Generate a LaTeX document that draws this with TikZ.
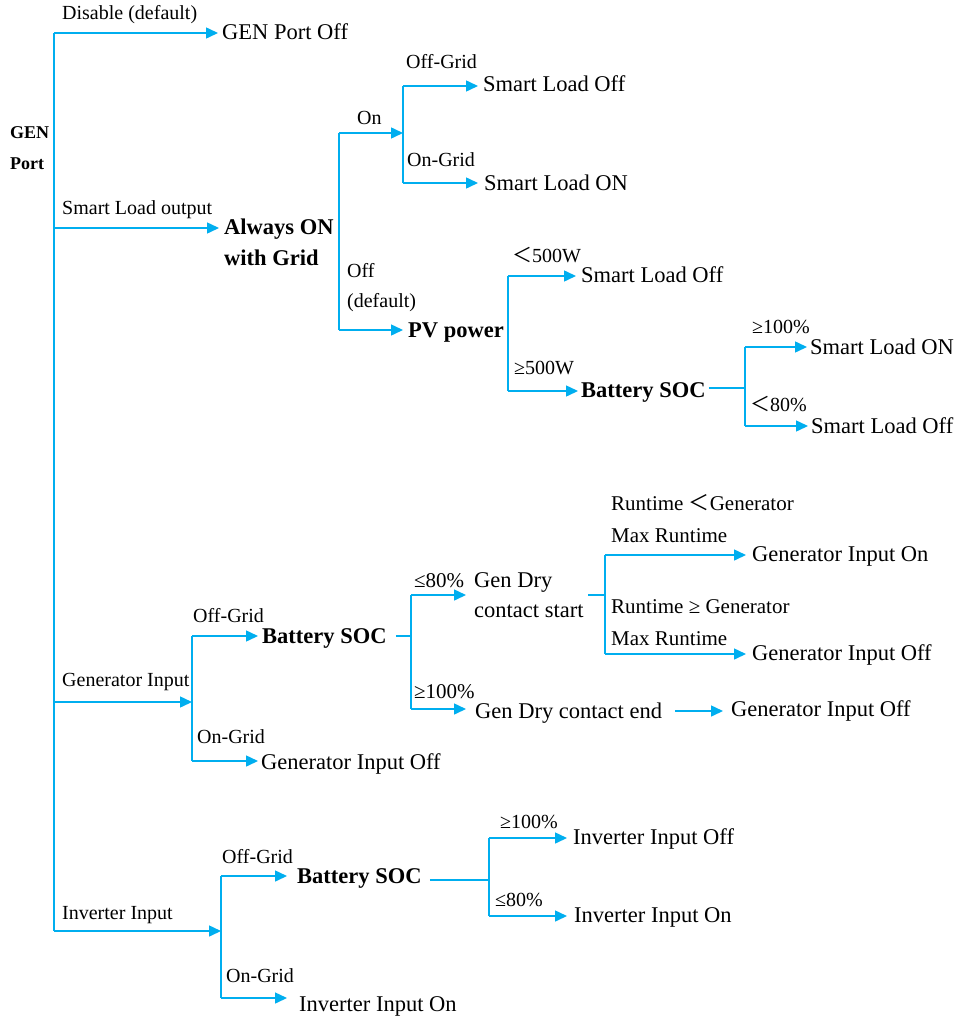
\documentclass[tikz,border=0pt]{standalone}
\usepackage{fontspec}
\setmainfont{Liberation Serif}
\newfontfamily\cjk{Noto Sans CJK SC}
\usetikzlibrary{arrows.meta,calc}
\definecolor{lc}{HTML}{00AEEF}
\newcommand{\flt}{{\cjk ＜}}
\tikzset{
 ln/.style={draw=lc, line width=1.5pt},
 arr/.style={ln, -{Triangle[length=12pt,width=11pt]}},
 txt/.style={anchor=west, inner sep=0pt, text depth=0pt},
 big/.style={txt, font=\fontsize{22.5}{27}\selectfont, text height=15pt},
 bigb/.style={txt, font=\fontsize{22.5}{27}\selectfont\bfseries, text height=15pt},
 lab/.style={txt, font=\fontsize{20}{24}\selectfont, text height=13pt},
 rt/.style={txt, font=\fontsize{21}{25}\selectfont, text height=14pt},
 genp/.style={txt, font=\fontsize{18}{22}\selectfont\bfseries, text height=12pt},
}
\begin{document}
\begin{tikzpicture}[x=1pt,y=-1pt]
\useasboundingbox (0,0) rectangle (970,1017);
% texts
\node[genp] (gen1) at (10,132) {GEN};
\node[genp] (gen2) at (10,163) {Port};
\node[lab] (l1) at (62,13) {Disable (default)};
\node[big] (gpo) at (222,32) {GEN Port Off};
\node[lab] (l2) at (62,208) {Smart Load output};
\node[bigb] (aon1) at (224,227) {Always ON};
\node[bigb] (aon2) at (224,258) {with Grid};
\node[lab] (l3) at (357,118) {On};
\node[lab] (l4) at (406,62) {Off-Grid};
\node[big] (slo1) at (483,84) {Smart Load Off};
\node[lab] (l5) at (407,160) {On-Grid};
\node[big] (slon1) at (484,183) {Smart Load ON};
\node[lab] (l6) at (347,271) {Off};
\node[lab] (l7) at (347,301) {(default)};
\node[bigb] (pv) at (408,330) {PV power};
\node[lab] (l8) at (512,256) {\flt500W};
\node[big] (slo2) at (581,275) {Smart Load Off};
\node[lab] (l9) at (514,368) {≥500W};
\node[bigb] (bsoc1) at (581,390) {Battery SOC};
\node[lab] (l10) at (752,327) {≥100\%};
\node[big] (slon2) at (810,347) {Smart Load ON};
\node[lab] (l11) at (750,405) {\flt80\%};
\node[big] (slo3) at (811,426) {Smart Load Off};
\node[lab] (l12) at (62,680) {Generator Input};
\node[lab] (l13) at (193,616) {Off-Grid};
\node[bigb] (bsoc2) at (262,636) {Battery SOC};
\node[lab] (l14) at (197,737) {On-Grid};
\node[big] (gio1) at (261,762) {Generator Input Off};
\node[rt] (l15) at (414,580) {≤80\%};
\node[big] (gds1) at (474,580) {Gen Dry};
\node[big] (gds2) at (474,610) {contact start};
\node[rt] (l16) at (414,691) {≥100\%};
\node[big] (gdce) at (475,711) {Gen Dry contact end};
\node[rt] (l17) at (611,503) {Runtime \flt Generator};
\node[rt] (l18) at (611,535) {Max Runtime};
\node[big] (gion) at (752,554) {Generator Input On};
\node[rt] (l19) at (611,606) {Runtime ≥ Generator};
\node[rt] (l20) at (611,638) {Max Runtime};
\node[big] (gio2) at (752,653) {Generator Input Off};
\node[big] (gio3) at (731,709) {Generator Input Off};
\node[lab] (l21) at (62,913) {Inverter Input};
\node[lab] (l22) at (222,857) {Off-Grid};
\node[bigb] (bsoc3) at (297,876) {Battery SOC};
\node[lab] (l23) at (226,976) {On-Grid};
\node[big] (iio1) at (299,1004) {Inverter Input On};
\node[lab] (l24) at (500,822) {≥100\%};
\node[big] (iio2) at (573,837) {Inverter Input Off};
\node[lab] (l25) at (495,900) {≤80\%};
\node[big] (iio3) at (574,915) {Inverter Input On};
% coordinates
\coordinate (tA) at (54,33);
\coordinate (tB) at (54,228);
\coordinate (tC) at (54,702);
\coordinate (tD) at (54,931);
\coordinate (aT) at (339,133);
\coordinate (aB) at (339,330);
\coordinate (oC) at (403,133);
\coordinate (oT) at (403,86);
\coordinate (oB) at (403,183);
\coordinate (pT) at (508,276);
\coordinate (pB) at (508,391);
\coordinate (sC) at (745,388);
\coordinate (sT) at (745,347);
\coordinate (sB) at (745,426);
\coordinate (gC) at (192,702);
\coordinate (gT) at (192,636);
\coordinate (gB) at (192,761);
\coordinate (dC) at (411,636);
\coordinate (dT) at (411,595);
\coordinate (dB) at (411,709);
\coordinate (kS) at (588,595);
\coordinate (kC) at (605,595);
\coordinate (kT) at (605,555);
\coordinate (kB) at (605,654);
\coordinate (iC) at (221,931);
\coordinate (iT) at (221,876);
\coordinate (iB) at (221,998);
\coordinate (jC) at (489,880);
\coordinate (jT) at (489,838);
\coordinate (jB) at (489,916);
% connectors
\draw[ln] (tA) -- (tD);
\draw[arr] (tA) -- ($(tA -| gpo.west)+(-4,0)$);
\draw[arr] (tB) -- ($(tB -| aon1.west)+(-5,0)$);
\draw[ln] (aT) -- (aB);
\draw[arr] (aT) -- (oC);
\draw[ln] (oT) -- (oB);
\draw[arr] (oT) -- ($(oT -| slo1.west)+(-5,0)$);
\draw[arr] (oB) -- ($(oB -| slon1.west)+(-6,0)$);
\draw[arr] (aB) -- ($(aB -| pv.west)+(-5,0)$);
\draw[ln] (pT) -- (pB);
\draw[arr] (pT) -- ($(pT -| slo2.west)+(-5,0)$);
\draw[arr] (pB) -- ($(pB -| bsoc1.west)+(-3,0)$);
\draw[ln] ($(bsoc1.east |- sC)+(3,0)$) -- (sC);
\draw[ln] (sT) -- (sB);
\draw[arr] (sT) -- ($(sT -| slon2.west)+(-3,0)$);
\draw[arr] (sB) -- ($(sB -| slo3.west)+(-3,0)$);
\draw[arr] (tC) -- (gC);
\draw[ln] (gT) -- (gB);
\draw[arr] (gT) -- ($(gT -| bsoc2.west)+(-4,0)$);
\draw[arr] (gB) -- ($(gB -| gio1.west)+(-3,0)$);
\draw[ln] ($(bsoc2.east |- dC)+(9,0)$) -- (dC);
\draw[ln] (dT) -- (dB);
\draw[arr] (dT) -- ($(dT -| gds1.west)+(-8,0)$);
\draw[arr] (dB) -- ($(dB -| gdce.west)+(-9,0)$);
\draw[ln] (kS) -- (kC);
\draw[ln] (kT) -- (kB);
\draw[arr] (kT) -- ($(kT -| gion.west)+(-6,0)$);
\draw[arr] (kB) -- ($(kB -| gio2.west)+(-6,0)$);
\draw[arr] ($(gdce.east)+(13,0)$) -- ($(gdce.east -| gio3.west)+(-8,0)$);
\draw[arr] (tD) -- (iC);
\draw[ln] (iT) -- (iB);
\draw[arr] (iT) -- ($(iT -| bsoc3.west)+(-10,0)$);
\draw[arr] (iB) -- ($(iB -| iio1.west)+(-12,0)$);
\draw[ln] ($(bsoc3.east |- jC)+(8,0)$) -- (jC);
\draw[ln] (jT) -- (jB);
\draw[arr] (jT) -- ($(jT -| iio2.west)+(-6,0)$);
\draw[arr] (jB) -- ($(jB -| iio3.west)+(-7,0)$);
\end{tikzpicture}
\end{document}
